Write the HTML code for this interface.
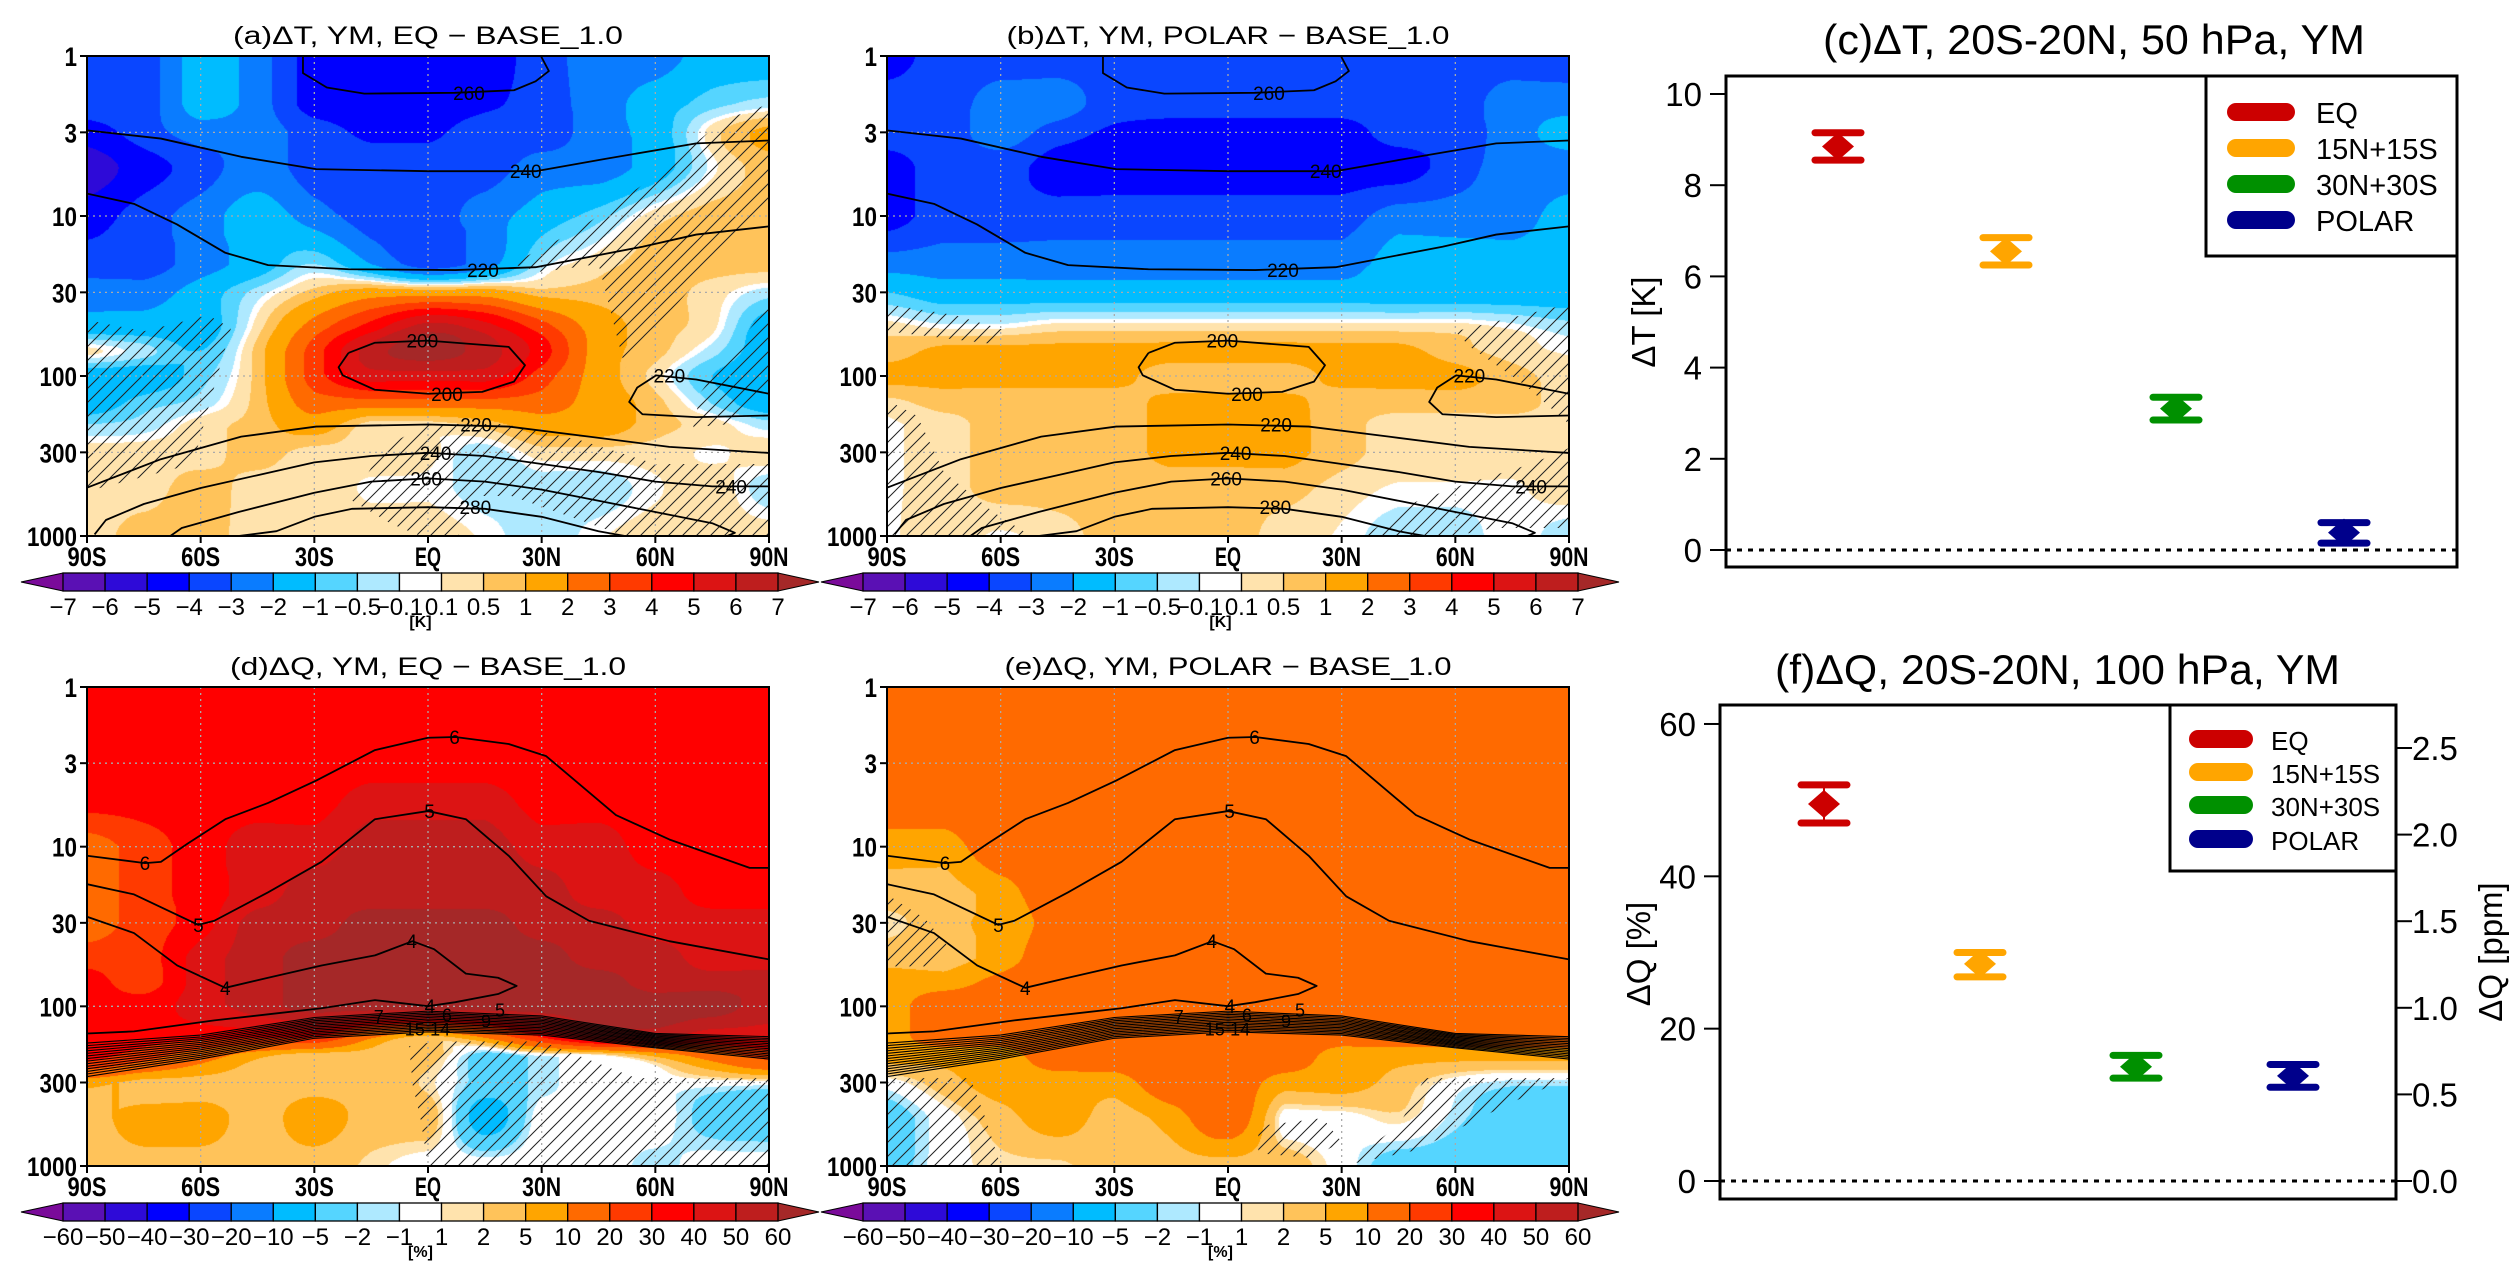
<!DOCTYPE html>
<html><head><meta charset="utf-8">
<style>
html,body{margin:0;padding:0;background:#fff;}
#root{position:relative;width:2519px;height:1278px;overflow:hidden;background:#fff;}
canvas{position:absolute;}
svg{position:absolute;left:0;top:0;}
text{font-family:"Liberation Sans",sans-serif;}
</style></head>
<body>
<div id="root">
<canvas id="cva" width="682" height="480" style="left:87px;top:56px"></canvas>
<canvas id="cvb" width="682" height="480" style="left:887px;top:56px"></canvas>
<canvas id="cvd" width="682" height="479" style="left:87px;top:687px"></canvas>
<canvas id="cve" width="682" height="479" style="left:887px;top:687px"></canvas>
<svg id="svg" width="2519" height="1278" xmlns="http://www.w3.org/2000/svg">
<defs>
<pattern id="hatch" patternUnits="userSpaceOnUse" width="14" height="14">
<path d="M0,14 L14,0 M-3,3 L3,-3 M11,17 L17,11" stroke="#222" stroke-width="1"/>
</pattern>
</defs>
</svg>
</div>
<script>
// ---------- data ----------
const LATS=[-90,-75,-60,-45,-30,-15,0,15,30,45,60,75,90];
const PLEV=[1,2,3,5,10,20,30,50,70,100,150,200,300,500,1000];
const T_LEVELS=[-7,-6,-5,-4,-3,-2,-1,-0.5,-0.1,0.1,0.5,1,2,3,4,5,6,7];
const T_LABELS=["−7","−6","−5","−4","−3","−2","−1","−0.5","−0.1","0.1","0.5","1","2","3","4","5","6","7"];
const Q_LEVELS=[-60,-50,-40,-30,-20,-10,-5,-2,-1,1,2,5,10,20,30,40,50,60];
const Q_LABELS=["−60","−50","−40","−30","−20","−10","−5","−2","−1","1","2","5","10","20","30","40","50","60"];
const CMAP=['#7a0a9a','#5a10b4','#2e0ad8','#0000ff','#0a46ff','#0a7cff','#00bcff','#55d5ff','#aee9ff','#ffffff','#ffe3ad','#ffc35a','#ffa500','#ff6a00','#ff3a00','#ff0000','#dc1414','#be1e1e','#a52828'];

const dT_EQ=[
[-3.5,-3.5,-1.5,-2.5,-4.5,-4.5,-4.5,-4.5,-3.5,-2.5,-2.5,-1.5,-1.5],
[-3.5,-3.5,-1.5,-2.5,-4.5,-4.5,-4.5,-4.2,-3.5,-2.5,-1.5,-0.7,-0.3],
[-4.5,-3.5,-2.5,-2.5,-3.5,-4.2,-4.2,-3.5,-3.5,-2.5,-1.5,0.3,1.2],
[-5.5,-4.5,-3.5,-2.5,-3.5,-3.5,-3.5,-3.5,-2.5,-2.5,-1.5,0,0.7],
[-4.5,-3.5,-2.5,-1.5,-2.5,-3.5,-3.5,-2.5,-1.5,-0.7,0.3,0.7,0.7],
[-3.5,-3.5,-2.5,-1.5,-0.5,-2,-3.5,-2.5,-0.3,0.3,0.7,0.7,0.7],
[-2.5,-2.5,-1.5,-0.3,0.7,1.5,1.5,1.5,0.7,0.7,0.7,0.3,-0.3],
[-1.5,-1.5,-1.5,0.3,2.5,4.5,6.5,5.5,3.5,1.5,0.7,0.2,-1.5],
[0.2,-0.3,-1,0.7,3.5,6.5,7.5,6.5,4.5,1.5,0.7,-0.3,-1.5],
[-1.5,-1.5,-0.7,0.7,3.5,5.5,5.5,5.5,3.5,1.5,0.3,-1,-1.5],
[-1.5,-0.7,-0.3,0.7,2.5,2.5,2.5,2.5,2.5,1.5,0.7,-0.5,-1.5],
[-0.5,-0.3,0.3,0.7,1.5,0.3,0.3,0.7,1.5,1.5,0.7,0.3,-0.3],
[0.3,0.3,0.3,0.7,0.3,0.3,0.2,-0.3,0.3,0.3,0.3,0.05,0.3],
[0.3,0.3,0.7,0.3,0.3,0.05,0.05,-0.3,-0.3,-0.3,0.05,0.3,-0.3],
[0.3,0.7,0.7,0.3,0.3,0.3,0.3,0.05,-0.3,0.05,0.3,0.3,0.3]];
const dT_POLAR=[
[-4.5,-3.5,-3.5,-3.5,-3.5,-3.5,-3.5,-3.5,-3.5,-3.5,-3.5,-3.5,-3.5],
[-3.5,-3.5,-2.5,-2.5,-3.5,-3.5,-3.5,-3.5,-3.5,-3.5,-3.5,-2.5,-2.5],
[-3.5,-3.5,-2.5,-3.5,-4.2,-4.5,-4.5,-4.5,-4.5,-3.5,-3.5,-2.5,-1.5],
[-4.5,-3.5,-3.5,-4.5,-4.5,-4.5,-4.5,-4.5,-4.5,-4.5,-3.5,-2.5,-2.5],
[-4.5,-3.5,-3.5,-3.5,-3.5,-3.5,-3.5,-3.5,-3.5,-2.5,-2.5,-2.5,-1.5],
[-2.5,-2.5,-2.5,-2.5,-2.5,-2.5,-2.5,-2.5,-2.5,-1.5,-1.5,-1.5,-1.5],
[-1.0,-1.5,-1.5,-1.5,-1.5,-1.5,-1.5,-1.5,-1.5,-1.5,-1.5,-1.5,-1.5],
[0.3,0.05,0.05,0.3,0.3,0.3,0.3,0.3,0.3,0.3,0.3,0.05,-0.3],
[0.7,1.2,1.2,1.2,1.2,1.2,1.2,1.2,1.2,1.2,0.7,0.3,0.05],
[1.2,1.2,1.2,1.2,1.2,0.7,0.7,0.7,1.2,1.2,1.2,0.7,0.3],
[0.3,0.7,0.7,0.7,0.7,1.2,1.2,1.2,0.7,0.7,0.7,0.7,0.3],
[0.05,0.3,0.7,0.7,0.7,1.2,1.2,1.2,0.7,0.3,0.3,0.3,0.3],
[0.05,0.3,0.7,0.7,0.7,1.2,1.2,1.2,0.7,0.3,0.3,0.3,0.3],
[0.05,0.3,0.7,0.7,0.7,0.7,0.7,0.7,0.3,0.05,0.05,0.05,0.3],
[0.05,0.3,0.05,0.3,0.7,0.7,0.7,0.3,0.05,-0.3,-0.3,0.05,-0.3]];
const dQ_EQ=[
[35,35,35,35,35,35,35,35,35,35,35,35,35],
[35,35,35,35,35,35,35,35,35,35,35,35,35],
[35,35,35,35,35,35,35,35,35,35,35,35,35],
[35,35,35,35,35,45,45,45,35,35,35,35,35],
[15,25,35,45,45,55,55,55,45,45,35,35,35],
[15,25,35,45,55,55,55,55,55,45,45,35,35],
[15,25,35,55,55,65,65,65,55,55,45,45,45],
[25,25,45,55,65,65,65,65,65,55,55,45,45],
[35,25,45,55,65,65,65,65,65,65,55,55,55],
[35,35,45,55,65,65,65,65,65,65,65,65,55],
[35,35,35,35,35,15,7,15,35,55,55,45,45],
[35,25,15,7,3.5,3.5,3.5,-3,0,1.5,7,15,25],
[7,3.5,3.5,3.5,3.5,3.5,1.5,-3,-1.5,0,0,0,0],
[3.5,7,7,3.5,7,3.5,3.5,-7,0,0,0,-3,-3.5],
[3.5,3.5,3.5,3.5,3.5,1.5,0,0,0,0,-1.5,0,0]];
const dQ_POLAR=[
[15,15,15,15,15,15,15,15,15,15,15,15,15],
[15,15,15,15,15,15,15,15,15,15,15,15,15],
[15,15,15,15,15,15,15,15,15,15,15,15,15],
[15,15,15,15,15,15,15,15,15,15,15,15,15],
[7,7,15,15,15,15,15,15,15,15,15,15,15],
[3.5,3.5,7,15,15,15,15,15,15,15,15,15,15],
[1.5,3.5,7,12,15,15,15,15,15,15,15,15,15],
[3.5,3.5,7,15,15,15,15,15,15,15,15,15,15],
[7,7,12,15,15,15,15,15,15,15,15,15,15],
[7,15,15,15,15,15,15,15,15,15,15,15,15],
[7,15,15,15,15,15,15,15,15,15,15,15,15],
[7,7,7,15,15,15,15,15,7,7,7,7,7],
[0,3.5,7,7,7,15,15,7,7,3.5,0,-1.5,-1.5],
[-3.5,0,3.5,7,3.5,7,15,0,0,1.5,-1.5,-3.5,-3.5],
[-3.5,0,1.5,1.5,3.5,3.5,3.5,3.5,0,-3.5,-3.5,-3.5,-3.5]];

// climatology contour lines: [lat, log10(p)]
const T_CONTOURS=[
 {v:"260",pts:[[-33,0],[-33,0.107],[-26.7,0.197],[-16.8,0.235],[7,0.23],[22.7,0.214],[28.4,0.158],[31.9,0.094],[29.8,0]],lab:[[10.8,0.23]]},
 {v:"240",pts:[[-90,0.465],[-70.5,0.516],[-49.3,0.63],[-29.5,0.707],[0,0.72],[28.4,0.72],[46.8,0.643],[70.8,0.546],[90,0.528]],lab:[[25.8,0.72]]},
 {v:"220",pts:[[-90,0.86],[-77.6,0.924],[-66.3,1.052],[-53.5,1.23],[-42.2,1.307],[-21,1.333],[7.2,1.338],[28.4,1.32],[56.6,1.192],[70.8,1.116],[90,1.065]],lab:[[14.5,1.338]]},
 {v:"200",pts:[[-21,1.856],[-14,1.792],[0,1.779],[21.3,1.818],[25.6,1.933],[22.7,2.035],[14.3,2.099],[0,2.111],[-14,2.086],[-22.5,1.996],[-23.6,1.945],[-21,1.856]],lab:[[-1.5,1.779],[5,2.111]]},
 {v:"220",pts:[[90,2.111],[70.8,2.022],[60.2,1.996],[55.2,2.073],[53.1,2.162],[56.6,2.239],[70.8,2.257],[90,2.247]],lab:[[63.7,1.996]]},
 {v:"220",pts:[[-90,2.698],[-70.5,2.52],[-49.3,2.379],[-29.5,2.316],[0,2.303],[21.3,2.316],[42.5,2.379],[63.7,2.443],[90,2.481]],lab:[[12.7,2.303]]},
 {v:"240",pts:[[-88,2.99],[-85,2.9],[-75,2.8],[-60,2.7],[-45,2.62],[-30,2.54],[-15,2.5],[0,2.48],[15,2.5],[30,2.55],[45,2.6],[60,2.66],[75,2.69],[90,2.69]],lab:[[2,2.48],[80,2.69]]},
 {v:"260",pts:[[-68,3.0],[-65,2.95],[-50,2.85],[-30,2.73],[-15,2.66],[0,2.64],[15,2.66],[30,2.71],[45,2.78],[60,2.85],[75,2.92],[81,2.98],[79,3.0]],lab:[[-0.5,2.64]]},
 {v:"280",pts:[[-50,3.0],[-40,2.97],[-30,2.88],[-20,2.83],[0,2.82],[15,2.83],[30,2.88],[45,2.97],[52,3.0]],lab:[[12.5,2.82]]}];
const Q_CONTOURS=[
 {v:"6",pts:[[-90,1.057],[-74.7,1.103],[-70.5,1.095],[-63.4,0.98],[-53.5,0.828],[-42.2,0.726],[-29.5,0.586],[-14,0.395],[0,0.318],[7.2,0.313],[21.3,0.357],[31.2,0.433],[49.6,0.802],[63.7,0.955],[84.9,1.133],[90,1.133]],lab:[[-74.7,1.103],[7,0.313]]},
 {v:"5",pts:[[-90,1.235],[-77.6,1.299],[-60.6,1.49],[-56.4,1.464],[-42.2,1.286],[-28.1,1.095],[-14,0.828],[0,0.777],[10,0.828],[21.3,1.057],[31.2,1.311],[42.5,1.464],[63.7,1.592],[90,1.706]],lab:[[-60.6,1.49],[0.4,0.777]]},
 {v:"4",pts:[[-90,1.439],[-77.6,1.541],[-66.2,1.744],[-53.5,1.884],[-42.2,1.821],[-28.1,1.744],[-14,1.681],[-4.1,1.592],[1.6,1.642],[10,1.795],[18.5,1.821],[23.4,1.872],[18.5,1.923],[7.2,1.974],[0,1.999],[-14,1.961],[-28.1,2.012],[-42.2,2.05],[-56.4,2.088],[-77.6,2.157],[-90,2.17]],lab:[[-53.5,1.884],[-4.3,1.592],[0.5,1.999]]}];
const Q_BAND_LATS=[-90,-60,-30,0,30,60,90];
const Q_BAND_TOP=[2.23,2.18,2.07,2.03,2.06,2.17,2.19];
const Q_BAND_BOT=[2.44,2.33,2.2,2.16,2.18,2.26,2.33];
const Q_BAND_N=14;
const Q_BAND_LABELS=[["5",19,2.02],["7",-13,2.06],["6",5,2.05],["9",15.3,2.09],["15",-3.5,2.14],["14",3.2,2.14]];

const HATCH_A=[
 [[22,1.3],[40,1.08],[60,0.75],[78,0.4],[90,0.3],[90,0.9],[75,1.3],[62,1.65],[52,1.95],[45,1.3],[30,1.35]],
 [[-90,1.65],[-75,1.72],[-58,1.62],[-52,1.7],[-58,2.2],[-62,2.55],[-90,2.72]],
 [[72,2.1],[90,1.55],[90,2.05],[80,2.3],[70,2.32]],
 [[-20,2.78],[-12,2.45],[0,2.3],[20,2.3],[40,2.4],[60,2.55],[90,2.55],[90,3.0],[52,3.0],[40,2.9],[22,2.75],[12,2.75],[8,3.0],[-2,3.0],[-10,2.92]]];
const HATCH_B=[
 [[-90,1.55],[-72,1.62],[-58,1.72],[-62,1.8],[-90,1.72]],
 [[-90,2.15],[-82,2.25],[-75,2.6],[-62,2.85],[-52,3.0],[-90,3.0]],
 [[60,1.72],[90,1.55],[90,2.3],[78,2.05],[64,1.82]],
 [[36,3.0],[48,2.8],[62,2.68],[80,2.55],[90,2.45],[90,2.95],[70,2.95],[60,3.0]]];
const HATCH_D=[
 [[-5,2.25],[2,2.22],[30,2.22],[55,2.45],[90,2.45],[90,3.0],[0,3.0],[-2,2.7],[-4,2.5]]];
const HATCH_E=[
 [[-90,1.3],[-80,1.45],[-73,1.65],[-80,1.75],[-90,1.75]],
 [[-90,2.45],[-68,2.45],[-64,2.7],[-60,3.0],[-90,3.0]],
 [[8,2.75],[25,2.7],[30,2.85],[22,2.95],[8,2.92]],
 [[52,2.45],[90,2.45],[75,2.6],[58,2.8],[50,2.9],[30,3.0],[45,2.75]]];

// point panels
const CATS=["EQ","15N+15S","30N+30S","POLAR"];
const CAT_COLORS=["#cc0000","#ffa500","#009000","#00008b"];
const DT_MEAN=[8.85,6.55,3.1,0.38];
const DT_LO=[8.55,6.25,2.85,0.15];
const DT_HI=[9.15,6.85,3.35,0.6];
const DQ_MEAN=[49.5,28.5,15,13.8];
const DQ_LO=[47,26.8,13.5,12.3];
const DQ_HI=[52,30,16.5,15.3];
const DT_TICKS=[0,2,4,6,8,10];
const DQ_TICKS=[0,20,40,60];
const PPM_TICKS=["0.0","0.5","1.0","1.5","2.0","2.5"];
const PPM_VALUES=[0,0.5,1,1.5,2,2.5];
const LAT_TICKS=[-90,-60,-30,0,30,60,90];
const LAT_LABELS=["90S","60S","30S","EQ","30N","60N","90N"];
const P_TICKS=[1,3,10,30,100,300,1000];

// ---------- helpers ----------
const svg=document.getElementById('svg');
const NS='http://www.w3.org/2000/svg';
function mk(tag,attrs,parent){const e=document.createElementNS(NS,tag);for(const k in attrs)e.setAttribute(k,attrs[k]);(parent||svg).appendChild(e);return e;}
function txt(s,attrs,parent){const e=mk('text',attrs,parent);e.textContent=s;return e;}
const LOGP=PLEV.map(p=>Math.log10(p));

function colorIndex(v,levels){let k=0;while(k<levels.length&&v>=levels[k])k++;return k;}
function hex(c){return [parseInt(c.substr(1,2),16),parseInt(c.substr(3,2),16),parseInt(c.substr(5,2),16)];}
const CRGB=CMAP.map(hex);
function cr(p0,p1,p2,p3,t){const v=0.5*((2*p1)+(-p0+p2)*t+(2*p0-5*p1+4*p2-p3)*t*t+(-p0+3*p1-3*p2+p3)*t*t*t);
  return Math.max(Math.min(p1,p2),Math.min(Math.max(p1,p2),v));}
function sample(grid,lat,lp){
  let i=Math.min(11,Math.max(0,Math.floor((lat+90)/15)));let fx=(lat-LATS[i])/15;
  let k=0;while(k<LOGP.length-2&&lp>LOGP[k+1])k++;let fy=(lp-LOGP[k])/(LOGP[k+1]-LOGP[k]);
  fx=Math.max(0,Math.min(1,fx));fy=Math.max(0,Math.min(1,fy));
  const row=r=>{r=Math.max(0,Math.min(grid.length-1,r));const g=grid[r];
    const c=j=>g[Math.max(0,Math.min(12,j))];return cr(c(i-1),c(i),c(i+1),c(i+2),fx);};
  return cr(row(k-1),row(k),row(k+1),row(k+2),fy);
}
function drawField(id,grid,levels){
  const cv=document.getElementById(id),ctx=cv.getContext('2d');const W=cv.width,H=cv.height;
  const img=ctx.createImageData(W,H);
  for(let y=0;y<H;y++){const lp=3*(y+0.5)/H;
    for(let x=0;x<W;x++){const lat=-90+180*(x+0.5)/W;const v=sample(grid,lat,lp);
      const c=CRGB[colorIndex(v,levels)];const o=(y*W+x)*4;img.data[o]=c[0];img.data[o+1]=c[1];img.data[o+2]=c[2];img.data[o+3]=255;}}
  ctx.putImageData(img,0,0);
}

function contourPanel(P){
  const g=mk('g',{});
  
  
  const X=lat=>P.x0+(lat+90)/180*P.w;
  const Y=lp=>P.y0+lp/3*P.h;
  P.hatch.forEach(poly=>{
    const h=mk('polygon',{points:poly.map(q=>X(q[0])+','+Y(q[1])).join(' '),fill:'url(#hatch)',stroke:'none'},g);
    
    
  });
  [-60,-30,0,30,60].forEach(l=>{const e=mk('line',{x1:X(l),x2:X(l),y1:P.y0,y2:P.y0+P.h,stroke:'#aaa','stroke-width':1.3,'stroke-dasharray':'2,4'},g);
    });
  [3,10,30,100,300].forEach(p=>{const y=Y(Math.log10(p));const e=mk('line',{x1:P.x0,x2:P.x0+P.w,y1:y,y2:y,stroke:'#aaa','stroke-width':1.3,'stroke-dasharray':'2,4'},g);
    });
  const clip='clip'+P.name;
  const cp=mk('clipPath',{id:clip},g);mk('rect',{x:P.x0,y:P.y0,width:P.w,height:P.h},cp);
  P.contours.forEach(c=>{
    const e=mk('polyline',{points:c.pts.map(q=>X(q[0])+','+Y(q[1])).join(' '),fill:'none',stroke:'#000','stroke-width':1.8,'clip-path':'url(#'+clip+')','stroke-linejoin':'round'},g);
    
    c.lab.forEach(l=>{const t=txt(c.v,{x:X(l[0]),y:Y(l[1])+7,'font-size':19,'text-anchor':'middle',fill:'#000'},g);
      });
  });
  if(P.band){
    for(let n=0;n<Q_BAND_N;n++){const f=n/(Q_BAND_N-1);
      const pts=Q_BAND_LATS.map((l,i)=>X(l)+','+Y(Q_BAND_TOP[i]*(1-f)+Q_BAND_BOT[i]*f)).join(' ');
      const e=mk('polyline',{points:pts,fill:'none',stroke:'#000','stroke-width':1.1},g);
      }
    Q_BAND_LABELS.forEach(l=>{const t=txt(l[0],{x:X(l[1]),y:Y(l[2])+7,'font-size':18,'text-anchor':'middle',fill:'#000'},g);
      });
  }
  const fr=mk('rect',{x:P.x0,y:P.y0,width:P.w,height:P.h,fill:'none',stroke:'#000','stroke-width':2},g);
  
  P_TICKS.forEach(p=>{const y=Y(Math.log10(p));mk('line',{x1:P.x0-7,x2:P.x0,y1:y,y2:y,stroke:'#000','stroke-width':2},g);
    const t=txt(String(p),{x:P.x0-10,y:y+10,'font-size':27,'text-anchor':'end','font-weight':'bold',textLength:String(p).length*12.5,lengthAdjust:'spacingAndGlyphs'},g);
    });
  LAT_TICKS.forEach((l,i)=>{const x=X(l);mk('line',{x1:x,x2:x,y1:P.y0+P.h,y2:P.y0+P.h+7,stroke:'#000','stroke-width':2},g);
    const t=txt(LAT_LABELS[i],{x:x,y:P.y0+P.h+30,'font-size':27,'text-anchor':'middle','font-weight':'bold',textLength:LAT_LABELS[i].length*13,lengthAdjust:'spacingAndGlyphs'},g);
    });
  const tt=txt(P.title,{x:P.x0+P.w/2,y:P.y0-12,'font-size':25,'text-anchor':'middle',textLength:P.tlen,lengthAdjust:'spacingAndGlyphs'},g);
  
  const cbx0=P.x0-24,cbx1=P.x0+691,cy0=P.cbY,cy1=P.cbY+18,bw=(cbx1-cbx0)/17;
  const cb=mk('g',{},g);
  mk('polygon',{points:(cbx0-42)+','+(cy0+9)+' '+cbx0+','+cy0+' '+cbx0+','+cy1,fill:CMAP[0],stroke:'#000','stroke-width':1},cb);
  mk('polygon',{points:(cbx1+41)+','+(cy0+9)+' '+cbx1+','+cy0+' '+cbx1+','+cy1,fill:CMAP[18],stroke:'#000','stroke-width':1},cb);
  for(let i=0;i<17;i++){const r=mk('rect',{x:cbx0+i*bw,y:cy0,width:bw,height:18,fill:CMAP[i+1],stroke:'#000','stroke-width':1.3},cb);
    }
  P.labels.forEach((s,i)=>{const t=txt(s,{x:cbx0+i*bw,y:cy1+24,'font-size':24,'text-anchor':'middle'},cb);
    });
  const u=txt(P.unit,{x:cbx0+8.5*bw,y:cy1+36,'font-size':16,'font-weight':'bold','text-anchor':'middle'},cb);
  
}

drawField('cva',dT_EQ,T_LEVELS);
drawField('cvb',dT_POLAR,T_LEVELS);
drawField('cvd',dQ_EQ,Q_LEVELS);
drawField('cve',dQ_POLAR,Q_LEVELS);
contourPanel({name:'panel-a',x0:87,y0:56,w:682,h:480,title:'(a)ΔT, YM, EQ − BASE_1.0',tlen:390,labels:T_LABELS,unit:'[K]',contours:T_CONTOURS,hatch:HATCH_A,band:false,cbY:573});
contourPanel({name:'panel-b',x0:887,y0:56,w:682,h:480,title:'(b)ΔT, YM, POLAR − BASE_1.0',tlen:443,labels:T_LABELS,unit:'[K]',contours:T_CONTOURS,hatch:HATCH_B,band:false,cbY:573});
contourPanel({name:'panel-d',x0:87,y0:687,w:682,h:479,title:'(d)ΔQ, YM, EQ − BASE_1.0',tlen:396,labels:Q_LABELS,unit:'[%]',contours:Q_CONTOURS,hatch:HATCH_D,band:true,cbY:1203});
contourPanel({name:'panel-e',x0:887,y0:687,w:682,h:479,title:'(e)ΔQ, YM, POLAR − BASE_1.0',tlen:447,labels:Q_LABELS,unit:'[%]',contours:Q_CONTOURS,hatch:HATCH_E,band:true,cbY:1203});

function pointPanel(P){
  const g=mk('g',{});
  
  
  const Y=v=>P.yZero-(v-0)*P.pxPer;
  const z=mk('line',{x1:P.x0,x2:P.x1,y1:Y(0),y2:Y(0),stroke:'#000','stroke-width':3,'stroke-dasharray':'5,6'},g);
  
  P.ticks.forEach(v=>{mk('line',{x1:P.x0-16,x2:P.x0,y1:Y(v),y2:Y(v),stroke:'#000','stroke-width':2},g);
    const t=txt(String(v),{x:P.x0-24,y:Y(v)+12,'font-size':33,'text-anchor':'end'},g);
    });
  if(P.ppm){PPM_VALUES.forEach((v,i)=>{const y=P.yZero-v*P.ppmPx;mk('line',{x1:P.x1,x2:P.x1+16,y1:y,y2:y,stroke:'#000','stroke-width':2},g);
    const t=txt(PPM_TICKS[i],{x:P.x1+16,y:y+12,'font-size':33},g);
    });
    const r=txt('ΔQ [ppm]',{x:0,y:0,'font-size':33,'text-anchor':'middle',transform:'translate('+(P.x1+106)+','+((P.y0+P.y1)/2)+') rotate(-90)'},g);
    
  }
  P.mean.forEach((m,i)=>{
    const x=P.xs[i],c=CAT_COLORS[i];
    const pg=mk('g',{},g);
    
    
    mk('line',{x1:x,x2:x,y1:Y(P.lo[i]),y2:Y(P.hi[i]),stroke:c,'stroke-width':2},pg);
    mk('line',{x1:x-23,x2:x+23,y1:Y(P.lo[i]),y2:Y(P.lo[i]),stroke:c,'stroke-width':7,'stroke-linecap':'round'},pg);
    mk('line',{x1:x-23,x2:x+23,y1:Y(P.hi[i]),y2:Y(P.hi[i]),stroke:c,'stroke-width':7,'stroke-linecap':'round'},pg);
    const ym=Y(m);
    mk('polygon',{points:(x-16)+','+ym+' '+x+','+(ym-14)+' '+(x+16)+','+ym+' '+x+','+(ym+14),fill:c},pg);
  });
  const fr=mk('rect',{x:P.x0,y:P.y0,width:P.x1-P.x0,height:P.y1-P.y0,fill:'none',stroke:'#000','stroke-width':3},g);
  
  const lg=mk('g',{},g);
  mk('rect',{x:P.lx0,y:P.y0,width:P.x1-P.lx0,height:P.ly1-P.y0,fill:'#fff',stroke:'#000','stroke-width':3},lg);
  CATS.forEach((s,i)=>{const y=P.ly[i];
    const e=mk('line',{x1:P.lineX,x2:P.lineX+P.lineW,y1:y,y2:y,stroke:CAT_COLORS[i],'stroke-width':18,'stroke-linecap':'round'},lg);
    
    const t=txt(s,{x:P.textX,y:y+11,'font-size':P.lfs},lg);
    });
  const tt=txt(P.title,{x:(P.tx0+P.tx1)/2,y:P.ty,'font-size':42,'text-anchor':'middle',textLength:P.tx1-P.tx0,lengthAdjust:'spacingAndGlyphs'},g);
  
  const yl=txt(P.ylab,{x:0,y:0,'font-size':33,'text-anchor':'middle',transform:'translate('+P.ylx+','+P.yly+') rotate(-90)'},g);
  
}
pointPanel({name:'panel-c',x0:1726,x1:2457,y0:76,y1:567,yZero:550,pxPer:45.6,ticks:DT_TICKS,mean:DT_MEAN,lo:DT_LO,hi:DT_HI,
  xs:[1838,2006,2176,2344],lx0:2206,ly1:256,ly:[112,148,184,220],lineX:2236,lineW:50,textX:2316,lfs:29,
  title:'(c)ΔT, 20S-20N, 50 hPa, YM',tx0:1823,tx1:2365,ty:54,ylab:'ΔT [K]',ylx:1655,yly:322,ppm:false});
pointPanel({name:'panel-f',x0:1720,x1:2396,y0:705,y1:1199,yZero:1181,pxPer:7.617,ticks:DQ_TICKS,mean:DQ_MEAN,lo:DQ_LO,hi:DQ_HI,
  xs:[1824,1980,2136,2293],lx0:2170,ly1:871,ly:[739,772,805,839],lineX:2198,lineW:46,textX:2271,lfs:26,
  title:'(f)ΔQ, 20S-20N, 100 hPa, YM',tx0:1775,tx1:2340,ty:684,ylab:'ΔQ  [%]',ylx:1650,yly:954,ppm:true,ppmPx:173.2});
</script>
</body></html>
